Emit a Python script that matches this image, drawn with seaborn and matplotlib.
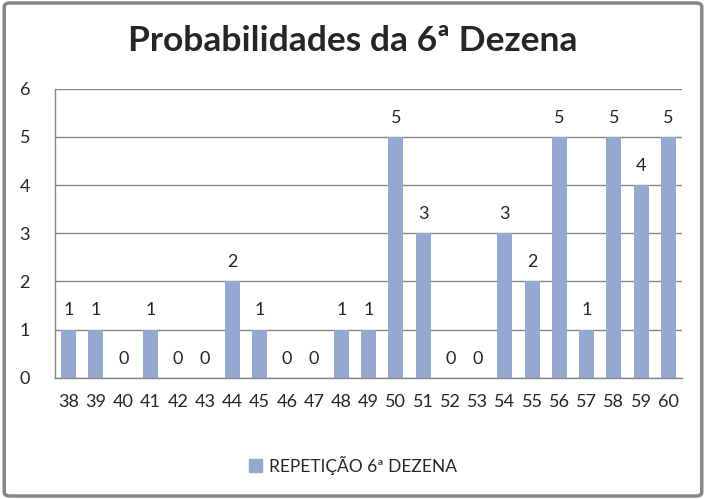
import matplotlib.pyplot as plt
import pandas as pd
import seaborn as sns
from matplotlib.patches import FancyBboxPatch, Patch

# data
numeros = ['38', '39', '40', '41', '42', '43', '44', '45', '46', '47', '48', '49',
           '50', '51', '52', '53', '54', '55', '56', '57', '58', '59', '60']
repeticoes = [1, 1, 0, 1, 0, 0, 2, 1, 0, 0, 1, 1,
              5, 3, 0, 0, 3, 2, 5, 1, 5, 4, 5]
serie = 'REPETIÇÃO 6ª DEZENA'
y_ticks = [0, 1, 2, 3, 4, 5, 6]

df = pd.DataFrame({'numero': numeros, 'rep': repeticoes})

sns.set_style('white')
plt.rcParams['font.family'] = ['Lato', 'DejaVu Sans']

bar_color = '#94A8D0'
grid_color = '#868686'

fig = plt.figure(figsize=(7.06, 4.99), dpi=100)
ax = fig.add_axes([0.078, 0.243, 0.888, 0.579])

sns.barplot(data=df, x='numero', y='rep', color=bar_color, width=0.55,
            saturation=1, linewidth=0, ax=ax)

ax.set_ylim(0, 6)
ax.set_yticks(y_ticks)
ax.yaxis.grid(True, color=grid_color, linewidth=1)
ax.set_axisbelow(True)
ax.set_xlabel('')
ax.set_ylabel('')
ax.tick_params(axis='both', labelsize=13, length=0, pad=12)
ax.tick_params(axis='y', pad=18)
for s in ['top', 'right']:
    ax.spines[s].set_visible(False)
for s in ['left', 'bottom']:
    ax.spines[s].set_color(grid_color)
    ax.spines[s].set_linewidth(1)

# value labels
for cont in ax.containers:
    ax.bar_label(cont, labels=[str(v) for v in repeticoes], padding=8, fontsize=13)

fig.suptitle('Probabilidades da 6ª Dezena', y=0.95, fontsize=25.5, fontweight='bold')

fig.legend(handles=[Patch(color=bar_color, label=serie)], loc='center',
           bbox_to_anchor=(0.5, 0.068), frameon=False, fontsize=12.5,
           handlelength=0.7, handleheight=0.7, handletextpad=0.4)

# outer rounded border
border = FancyBboxPatch((0.006, 0.006), 0.988, 0.988,
                        boxstyle='round,pad=0,rounding_size=0.008',
                        transform=fig.transFigure, facecolor='none',
                        edgecolor='#868686', linewidth=2.5)
fig.patches.append(border)

fig.savefig('out.png', dpi=100)
plt.close()
